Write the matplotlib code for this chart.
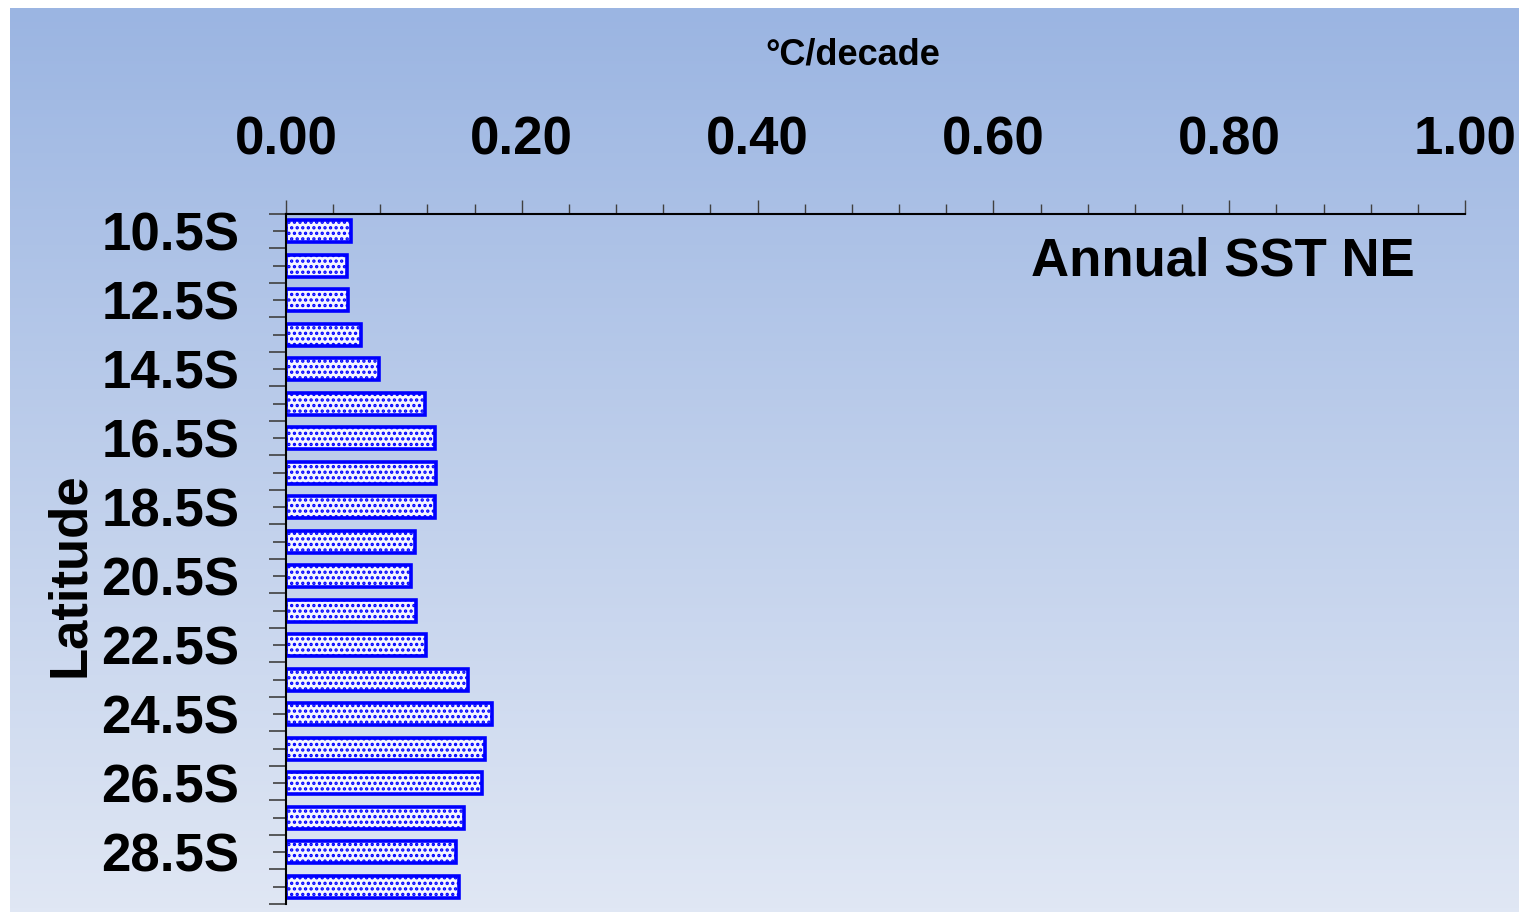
import numpy as np
import matplotlib.pyplot as plt
from matplotlib.colors import LinearSegmentedColormap

plt.rcParams['font.family'] = ['Liberation Sans', 'DejaVu Sans']
plt.rcParams['hatch.linewidth'] = 1.6

# data
latitudes = ['10.5S', '11.5S', '12.5S', '13.5S', '14.5S', '15.5S', '16.5S', '17.5S',
             '18.5S', '19.5S', '20.5S', '21.5S', '22.5S', '23.5S', '24.5S', '25.5S',
             '26.5S', '27.5S', '28.5S', '29.5S']
trend = [0.055, 0.052, 0.053, 0.064, 0.079, 0.118, 0.126, 0.127, 0.126, 0.109,
         0.106, 0.110, 0.119, 0.154, 0.175, 0.169, 0.166, 0.151, 0.144, 0.147]
xticks = [0.0, 0.2, 0.4, 0.6, 0.8, 1.0]

W, H = 1519, 914
fig = plt.figure(figsize=(W / 100, H / 100), dpi=100)

# gradient background panel
bg = fig.add_axes([10 / W, 2 / H, 1 - 10 / W, (906 - 2) / H], zorder=-1)
cmap = LinearSegmentedColormap.from_list('bg', ['#9bb5e2', '#e0e7f4'])
bg.imshow(np.linspace(0, 1, 256).reshape(-1, 1), aspect='auto', cmap=cmap,
          extent=[0, 1, 0, 1])
bg.set_axis_off()

ax = fig.add_axes([286 / W, 1 - 904 / H, (1465 - 286) / W, (904 - 214) / H])
ax.patch.set_alpha(0)

y = np.arange(len(latitudes))
ax.barh(y, trend, height=0.65, facecolor='#f4f5ff', edgecolor='#0000ff',
        linewidth=2.6, hatch='...')

ax.set_xlim(0, 1.0)
ax.set_ylim(len(latitudes) - 0.5, -0.5)

ax.xaxis.tick_top()
ax.set_xticks(xticks)
ax.set_xticklabels(['%.2f' % v for v in xticks], fontsize=38, fontweight='bold')
ax.set_xticks(np.arange(0, 1.0001, 0.04), minor=True)
ax.tick_params(axis='x', which='major', length=10, width=1, color='#404040', pad=25)
ax.tick_params(axis='x', which='minor', length=7, width=1, color='#404040')

ax.set_yticks(y)
ax.set_yticklabels([lab if i % 2 == 0 else '' for i, lab in enumerate(latitudes)],
                   fontsize=38, fontweight='bold', va='center_baseline')
ax.set_yticks(np.arange(-0.5, len(latitudes)), minor=True)
ax.tick_params(axis='y', which='major', length=9.5, width=1.2, color='#404040', pad=24)
ax.tick_params(axis='y', which='minor', length=12, width=1.2, color='#404040')

for s in ['bottom', 'right']:
    ax.spines[s].set_visible(False)
for s in ['top', 'left']:
    ax.spines[s].set_linewidth(1.5)

fig.text(853 / W, 1 - 55 / H, '°C/decade', fontsize=26, fontweight='bold',
         ha='center', va='center')
fig.text(1415 / W, 1 - 262 / H, 'Annual SST NE', fontsize=38, fontweight='bold',
         ha='right', va='center')
fig.text(70 / W, 1 - 575 / H, 'Latitude', fontsize=38, fontweight='bold',
         ha='center', va='center', rotation=90)

fig.savefig('out.png', dpi=100)
